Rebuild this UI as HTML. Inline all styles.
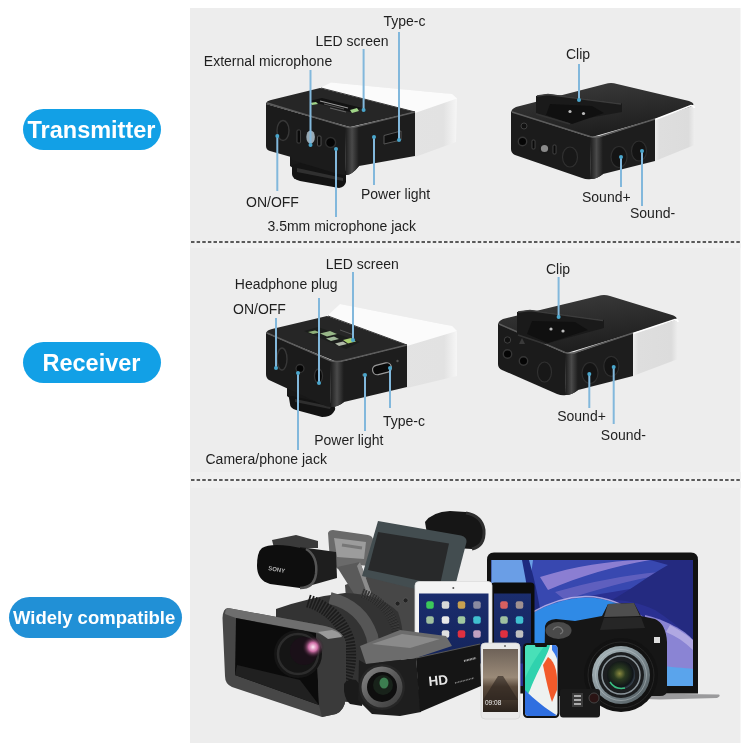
<!DOCTYPE html>
<html><head><meta charset="utf-8">
<style>
html,body{margin:0;padding:0;background:#fff;width:750px;height:750px;overflow:hidden}
svg{display:block;will-change:transform}
text{font-family:"Liberation Sans",sans-serif}
.lb{font-size:14px;fill:#1f1f1f}
.bt{font-weight:bold;fill:#fff}
.ln{stroke:#82b8dc;stroke-width:2;fill:none}
</style></head><body>
<svg width="750" height="750" viewBox="0 0 750 750">
<defs>
<linearGradient id="gTop" x1="0" y1="0" x2="1" y2="1"><stop offset="0" stop-color="#3a3a3a"/><stop offset="1" stop-color="#1c1c1c"/></linearGradient>
<linearGradient id="gLeft" x1="0" y1="0" x2="1" y2="0"><stop offset="0" stop-color="#1e1e1e"/><stop offset="1" stop-color="#161616"/></linearGradient>
<linearGradient id="gRight" x1="0" y1="0" x2="1" y2="0"><stop offset="0" stop-color="#2a2a2a"/><stop offset="0.15" stop-color="#1a1a1a"/><stop offset="1" stop-color="#141414"/></linearGradient>
<linearGradient id="gWTop" x1="0" y1="0" x2="1" y2="0"><stop offset="0" stop-color="#ffffff"/><stop offset="1" stop-color="#f7f7f7"/></linearGradient>
<linearGradient id="gWSide" x1="0" y1="0" x2="1" y2="0"><stop offset="0" stop-color="#e6e6e6"/><stop offset="0.8" stop-color="#f3f3f3"/><stop offset="1" stop-color="#fafafa"/></linearGradient>
<linearGradient id="gWSide2" x1="0" y1="0" x2="1" y2="0"><stop offset="0" stop-color="#f8f8f8"/><stop offset="0.25" stop-color="#e9e9e9"/><stop offset="0.85" stop-color="#eeeeee"/><stop offset="1" stop-color="#ffffff"/></linearGradient>
<linearGradient id="gTop2" x1="0" y1="0" x2="0.3" y2="1"><stop offset="0" stop-color="#3c3c3c"/><stop offset="1" stop-color="#1e1e1e"/></linearGradient>
<linearGradient id="gEdge" x1="0" y1="0" x2="1" y2="0"><stop offset="0" stop-color="#2a2a2a"/><stop offset="0.5" stop-color="#4a4a4a"/><stop offset="1" stop-color="#1a1a1a"/></linearGradient>
<linearGradient id="gLapScr" x1="0" y1="0" x2="1" y2="1"><stop offset="0" stop-color="#5f8fd8"/><stop offset="0.35" stop-color="#2c4fa8"/><stop offset="0.6" stop-color="#22317a"/><stop offset="1" stop-color="#7b8ee0"/></linearGradient>
<linearGradient id="gWave" x1="0" y1="0" x2="1" y2="0"><stop offset="0" stop-color="#1f7fe0"/><stop offset="1" stop-color="#3a9af0"/></linearGradient>
<linearGradient id="gIpadScr" x1="0" y1="0" x2="0" y2="1"><stop offset="0" stop-color="#1b2d6e"/><stop offset="1" stop-color="#14245a"/></linearGradient>
<linearGradient id="gHuawei" x1="0" y1="0" x2="0" y2="1"><stop offset="0" stop-color="#6e6258"/><stop offset="0.45" stop-color="#9a8a78"/><stop offset="0.6" stop-color="#5a4a3c"/><stop offset="1" stop-color="#2a221c"/></linearGradient>
<linearGradient id="gIphone" x1="0" y1="0" x2="1" y2="1"><stop offset="0" stop-color="#27d0a8"/><stop offset="0.4" stop-color="#e8f4f0"/><stop offset="0.65" stop-color="#f0f0f0"/><stop offset="1" stop-color="#2a6ae0"/></linearGradient>
<radialGradient id="gLensGlass" cx="0.45" cy="0.45" r="0.6"><stop offset="0" stop-color="#8a8a40"/><stop offset="0.35" stop-color="#2a3a20"/><stop offset="0.8" stop-color="#101418"/><stop offset="1" stop-color="#4a5a6a"/></radialGradient>
<radialGradient id="gPink" cx="0.5" cy="0.5" r="0.5"><stop offset="0" stop-color="#ffe8f4"/><stop offset="0.4" stop-color="#d070a8"/><stop offset="1" stop-color="#1a0a14" stop-opacity="0"/></radialGradient>
<linearGradient id="gHood" x1="0" y1="0" x2="1" y2="1"><stop offset="0" stop-color="#5a5a5a"/><stop offset="0.5" stop-color="#2a2a2a"/><stop offset="1" stop-color="#4a4a4a"/></linearGradient>
<linearGradient id="gBarrel" x1="0" y1="0" x2="1" y2="0"><stop offset="0" stop-color="#1a1a1a"/><stop offset="0.5" stop-color="#3a3a3a"/><stop offset="1" stop-color="#1c1c1c"/></linearGradient>
<linearGradient id="gWS3" x1="0" y1="0" x2="1" y2="0"><stop offset="0" stop-color="#f2f2f2"/><stop offset="0.12" stop-color="#e4e4e4"/><stop offset="0.9" stop-color="#e2e2e2"/><stop offset="1" stop-color="#f6f6f6"/></linearGradient>
<linearGradient id="gCorner" x1="0" y1="0" x2="1" y2="0"><stop offset="0" stop-color="#1a1a1a"/><stop offset="0.5" stop-color="#4a4a4a"/><stop offset="1" stop-color="#1c1c1c"/></linearGradient>
<linearGradient id="gWS4" x1="0" y1="0" x2="1" y2="0"><stop offset="0" stop-color="#ececec"/><stop offset="0.12" stop-color="#dedede"/><stop offset="0.85" stop-color="#dcdcdc"/><stop offset="1" stop-color="#eeeeee"/></linearGradient>
<linearGradient id="gRing" x1="0" y1="0" x2="1" y2="1"><stop offset="0" stop-color="#b0bec2"/><stop offset="0.5" stop-color="#7f8c92"/><stop offset="1" stop-color="#4a5458"/></linearGradient>
<linearGradient id="gRing2" x1="0" y1="0" x2="1" y2="1"><stop offset="0" stop-color="#8a8a8a"/><stop offset="0.5" stop-color="#5a5a5a"/><stop offset="1" stop-color="#3a3a3a"/></linearGradient>

</defs>
<rect x="190" y="8" width="550.5" height="735" fill="#ededed"/>
<!-- dashed separators -->
<rect x="190.5" y="243.5" width="550.5" height="4.5" fill="#f1f1f1"/>
<line x1="190.5" y1="242" x2="741" y2="242" stroke="#f7f7f7" stroke-width="2"/>
<line x1="191" y1="242" x2="741" y2="242" stroke="#5a5a5a" stroke-width="2" stroke-dasharray="3.5 2.122"/>
<rect x="190.5" y="472" width="550.5" height="16" fill="#f0f0f0"/>
<line x1="190.5" y1="480" x2="741" y2="480" stroke="#f7f7f7" stroke-width="2"/>
<line x1="191" y1="480" x2="741" y2="480" stroke="#5a5a5a" stroke-width="2" stroke-dasharray="3.5 2.122"/>
<!-- pills -->
<rect x="23" y="109" width="138" height="41" rx="20.5" fill="#12a0e6"/>
<text class="bt" x="27.5" y="138" font-size="23.5">Transmitter</text>
<rect x="23" y="342" width="138" height="41" rx="20.5" fill="#12a0e6"/>
<text class="bt" x="42.5" y="371" font-size="23.5">Receiver</text>
<rect x="9" y="597" width="173" height="41" rx="20.5" fill="#2190d6"/>
<text class="bt" x="13" y="624" font-size="18.5">Widely compatible</text>
<!-- transmitter front -->
<g id="tf">
<polygon points="320,88 331,82.5 452,94 457,98.5 456,142 415,157 415,113" fill="url(#gWS3)"/>
<polygon points="320,88 331,82.5 452,94 457,98.5 415,113" fill="#fbfbfb"/>
<!-- clip plate -->
<polygon points="290,155 346,171 346,180 296,170 290,166" fill="#181818"/>
<path d="M292,165 L300,163 L346,174 L346,182 Q345,187 339,188 L300,181 Q292,179 292,174 Z" fill="#141414"/>
<path d="M297,168 L343,178 L343,181 L297,172 Z" fill="#303030"/>
<path d="M266,104 Q266,101 271,100 L320,88 L415,112 L350,127 Z" fill="#262626"/>
<path d="M266,104 L345,126.5 L346,175 Q342,175 338,174 L292,160 L291,157 L270,151 Q266,150 266,146 Z" fill="#1b1b1b"/>
<path d="M345,126.5 Q352,128 359,126 L415,112 L415,156 L359,166 Q352,175 346,175 Z" fill="#1d1d1d"/>
<path d="M345,127 Q352,129 359,126 L359,166 Q352,175 346,175 Z" fill="url(#gCorner)"/>
<path d="M267,103 L345,126.5 Q352,128.5 359,126 L415,112" stroke="#5c5c5c" stroke-width="1.5" fill="none"/>
<path d="M321,88 L415,112" stroke="#3a3a3a" stroke-width="1" fill="none"/>
<ellipse cx="283" cy="130.5" rx="6" ry="10" fill="#161616" stroke="#383838" stroke-width="1.4"/>
<rect x="297" y="130" width="3.5" height="13" rx="1" fill="#0a0a0a" stroke="#4a4a4a" stroke-width="0.8"/>
<ellipse cx="310.6" cy="137" rx="4.3" ry="6.6" fill="#9aaab4"/>
<rect x="317.5" y="136" width="3.5" height="10" rx="1" fill="#0a0a0a" stroke="#5a5a5a" stroke-width="0.8"/>
<circle cx="330.6" cy="142.5" r="5" fill="#050505" stroke="#2e2e2e" stroke-width="1.4"/>
<polygon points="384,135.5 401,131 401,140 384,144" fill="#111" stroke="#555" stroke-width="1"/>
<circle cx="373.6" cy="137.6" r="1.3" fill="#555"/>
<!-- LED screen on top -->
<polygon points="309,101 322,98 362,108 350,112" fill="#121212"/>
<path d="M320,101 L348,108" stroke="#9a9a9a" stroke-width="1.2"/>
<path d="M324,104 L344,109" stroke="#6a6a6a" stroke-width="0.8"/>
<path d="M330,108 L346,112" stroke="#707070" stroke-width="0.9"/>
<polygon points="310,103 316,102 318,104 312,105" fill="#a0d488"/>
<polygon points="350,110 357,108 359,111 352,113" fill="#a0d488"/>
</g>
<!-- transmitter back -->
<g id="tb">
<polygon points="655,119 691,104.5 694.5,107 694.5,145 655,161" fill="url(#gWS4)"/>
<path d="M511,113 Q511,109 516,107 L605,84 Q611,82 617,84 L689,101 Q697,104 691,106.5 L655,119 L592,137 Z" fill="url(#gTop2)"/>
<path d="M655,119.5 L691,105.5 Q694,105.5 694.5,108" stroke="#ffffff" stroke-width="1.6" fill="none"/>
<path d="M511,112 L590,137 L591,179 Q587,180 582,178 L515,155 Q511,153 511,149 Z" fill="#1b1b1b"/>
<path d="M590,137 Q597,138.5 603,136 L655,119 L655,161 L603,174 Q597,179 591,179 Z" fill="#1d1d1d"/>
<path d="M590,137 Q597,138.5 603,136 L603,174 Q597,179 591,179 Z" fill="url(#gCorner)"/>
<path d="M512,112 L590,136.5 Q597,138 603,135.5 L655,119" stroke="#5c5c5c" stroke-width="1.5" fill="none"/>
<polygon points="536,96 548,94 622,103.5 622,112 566,122 536,113" fill="#1a1a1a"/>
<path d="M537,96 L548,94.5 L621,104" stroke="#3c3c3c" stroke-width="1.4" fill="none"/>
<polygon points="550,104 592,106 604,113 572,124 546,115" fill="#101010"/>
<circle cx="570" cy="111.5" r="1.6" fill="#bbb"/><circle cx="583.5" cy="113.5" r="1.6" fill="#bbb"/>
<path d="M536,114 L570,124" stroke="#333" stroke-width="1.6"/>
<circle cx="524" cy="126" r="3" fill="#111" stroke="#444" stroke-width="0.9"/>
<circle cx="522.5" cy="141.5" r="4.2" fill="#050505" stroke="#363636" stroke-width="1.4"/>
<rect x="532" y="140" width="3" height="9" rx="1" fill="#0a0a0a" stroke="#555" stroke-width="0.7"/>
<circle cx="544.5" cy="148.5" r="4.5" fill="#8a8a8a" stroke="#1a1a1a" stroke-width="1.8"/>
<rect x="553" y="145" width="3" height="9" rx="1" fill="#0a0a0a" stroke="#555" stroke-width="0.7"/>
<ellipse cx="570" cy="157" rx="7.5" ry="10" fill="#181818" stroke="#303030" stroke-width="1.2"/>
<ellipse cx="619" cy="157" rx="8" ry="10.5" fill="#141414" stroke="#2e2e2e" stroke-width="1.2"/>
<ellipse cx="639" cy="151" rx="7.5" ry="10" fill="#141414" stroke="#2e2e2e" stroke-width="1.2"/>
</g>
<!-- receiver front -->
<g id="rf">
<polygon points="327,316 340,304 452,326 457,332 457,376 407,388 407,346" fill="url(#gWS3)"/>
<polygon points="327,316 340,304 452,326 457,331 407,346" fill="#fbfbfb"/>
<!-- mount + plate -->
<polygon points="287,384 333,404 333,410 295,402 287,396" fill="#181818"/>
<path d="M289,398 Q289,396 292,396 L332,405 Q336,406 335,410 L333,413 Q330,417 322,417 L296,410 Q290,408 290,404 Z" fill="#131313"/>
<path d="M295,399 L331,406.5 L330,409 L295,402 Z" fill="#2e2e2e"/>
<path d="M266,333 Q267,330 272,329 L327,316 L407,345 L337,362 Z" fill="#262626"/>
<path d="M266,333 L330,360.5 L331,407 Q327,407 323,405 L269,380 Q266,378 266,374 Z" fill="#1b1b1b"/>
<path d="M330,360.5 Q337,363 344,361 L407,345 L407,387 L344,402 Q338,407 331,407 Z" fill="#1d1d1d"/>
<path d="M330,361 Q337,363 344,361 L344,402 Q338,407 331,407 Z" fill="url(#gCorner)"/>
<path d="M267,333 L330,360.5 Q337,362.5 344,360.5 L407,345" stroke="#5c5c5c" stroke-width="1.5" fill="none"/>
<path d="M328,316 L407,345" stroke="#3a3a3a" stroke-width="1" fill="none"/>
<!-- LED -->
<polygon points="304,331 318,327 360,342 346,349" fill="#1c1e1c"/>
<polygon points="308,332 315,330.5 320,332.5 313,334" fill="#8fb078"/>
<polygon points="320,333.5 330,331 337,334 327,336.5" fill="#98b888"/>
<polygon points="326,338.5 334,336.5 339,339 331,341" fill="#a0b898"/>
<polygon points="343,340 351,338 356,341.5 348,343.5" fill="#a8d070"/>
<polygon points="335,343.5 343,341.5 347,344 339,346" fill="#b0b8a8"/>
<path d="M340,330 L354,335" stroke="#555" stroke-width="1"/>
<ellipse cx="282" cy="359" rx="5" ry="11" fill="#181818" stroke="#383838" stroke-width="1.4"/>
<circle cx="300" cy="368.5" r="4" fill="#050505" stroke="#333" stroke-width="1.3"/>
<ellipse cx="318.5" cy="376" rx="4" ry="7" fill="#080808" stroke="#333" stroke-width="1.3"/>
<circle cx="363.5" cy="375" r="1.4" fill="#555"/>
<rect x="372.5" y="364" width="19" height="9.5" rx="4.5" fill="#0a0a0a" stroke="#999" stroke-width="1.2" transform="rotate(-14 382 368.8)"/>
<circle cx="397.5" cy="361" r="1.2" fill="#555"/>
</g>
<!-- receiver back -->
<g id="rb">
<polygon points="633,333 675,318.5 678,321 678,359 633,376" fill="url(#gWS4)"/>
<path d="M498,325 Q498,321 503,319 L598,296 Q604,294 610,296 L672,315 Q680,318 674,320.5 L633,333 L567,353 Z" fill="url(#gTop2)"/>
<path d="M633,333.5 L675,319.5 Q678,319.5 678,322" stroke="#ffffff" stroke-width="1.6" fill="none"/>
<path d="M498,324 L565,353 L566,395 Q562,396 557,394 L502,370 Q498,368 498,364 Z" fill="#1b1b1b"/>
<path d="M565,353 Q572,355 578,352 L633,333 L633,376 L578,390 Q572,395 566,395 Z" fill="#1d1d1d"/>
<path d="M565,353 Q572,355 578,352 L578,390 Q572,395 566,395 Z" fill="url(#gCorner)"/>
<path d="M499,324 L565,352.5 Q572,354.5 578,351.5 L633,333" stroke="#5c5c5c" stroke-width="1.5" fill="none"/>
<polygon points="517,312 530,310 604,320 604,328 545,344 517,334" fill="#1a1a1a"/>
<path d="M518,312 L530,310.5 L603,320.5" stroke="#3c3c3c" stroke-width="1.4" fill="none"/>
<polygon points="532,321 575,322 588,330 548,343 527,334" fill="#101010"/>
<circle cx="551" cy="329" r="1.6" fill="#bbb"/><circle cx="563" cy="331" r="1.6" fill="#bbb"/>
<path d="M518,335 L545,344" stroke="#333" stroke-width="1.6"/>
<circle cx="507.5" cy="340" r="3.2" fill="#111" stroke="#444" stroke-width="0.9"/>
<circle cx="507.5" cy="354" r="4.2" fill="#050505" stroke="#363636" stroke-width="1.4"/>
<polygon points="522,338 525,344 519,344" fill="#3a3a3a"/>
<circle cx="523.5" cy="361" r="4.2" fill="#050505" stroke="#363636" stroke-width="1.4"/>
<ellipse cx="544.5" cy="372" rx="7" ry="10" fill="#181818" stroke="#303030" stroke-width="1.2"/>
<ellipse cx="590" cy="373" rx="8" ry="10.5" fill="#141414" stroke="#2e2e2e" stroke-width="1.2"/>
<ellipse cx="611.3" cy="366.3" rx="7.5" ry="10" fill="#141414" stroke="#2e2e2e" stroke-width="1.2"/>
</g>
<!-- collage -->
<g id="collage">
<!-- laptop -->
<path d="M645,693.5 L719,694.5 Q721,696 717,698 L660,699.5 L645,699 Z" fill="#9a9a9c"/>
<path d="M487,693.5 V560 Q487,552.5 494,552.5 H691 Q698,552.5 698,560 V693.5 Z" fill="#121212"/>
<rect x="491.5" y="560" width="201.5" height="126" fill="#2a3092"/>
<path d="M491.5,560 H693 V580 C660,585 620,590 590,596 C560,602 535,612 520,620 L491.5,640 Z" fill="#3848b0"/>
<path d="M491.5,560 H533 C531,575 529,590 526,604 L491.5,612 Z" fill="#6a9ee6"/>
<path d="M529,560 C536,585 540,605 543,630 L534,640 C531,612 527,585 522,560 Z" fill="#1e2a80"/>
<path d="M540,577 C575,566 610,561 640,560 L650,560 C615,566 580,576 548,590 Z" fill="#9a88d8" opacity="0.85"/>
<path d="M555,592 C590,582 625,575 660,572 L665,574 C630,580 595,590 565,600 Z" fill="#7a70c8" opacity="0.6"/>
<path d="M650,560 H693 V640 C680,628 668,618 655,610 C640,603 625,600 612,600 C630,590 650,575 668,565 Z" fill="#242a80"/>
<path d="M531,614 C548,604 568,598 585,597.5 C605,597 625,605 645,620 L640,640 C625,628 610,622 595,622 C575,622 555,635 540,650 L531,655 Z" fill="#2f8ae6"/>
<path d="M531,613 C548,603 568,597 585,596.5 C605,596 625,604 645,619" stroke="#c8c0f0" stroke-width="1.5" fill="none" opacity="0.8"/>
<path d="M645,615 C665,620 685,630 693,640 V686 H645 Z" fill="#8a84d4"/>
<path d="M655,665 C670,667 685,668 693,669 V686 H655 Z" fill="#5aa4ec"/>
<path d="M670,625 C680,630 688,636 693,640 V650 C685,642 676,636 666,632 Z" fill="#c0b8e8" opacity="0.7"/>
<!-- big camcorder -->
<g id="cam">
<!-- eyepiece -->
<path d="M425,522 Q432,512 450,511 L466,512 Q482,515 484,530 Q485,546 472,549 L455,548 L428,540 Z" fill="#161616"/>
<path d="M466,513 Q482,516 484,530 Q485,546 472,549" stroke="#2e2e2e" stroke-width="3" fill="none"/>
<!-- body right part -->
<path d="M345,585 L372,575 L415,588 L415,655 L395,660 L350,650 Z" fill="#474747"/>
<circle cx="397.6" cy="603.6" r="2.5" fill="#222" stroke="#555" stroke-width="0.8"/>
<circle cx="405.6" cy="600.4" r="2.5" fill="#222" stroke="#555" stroke-width="0.8"/>
<!-- handle -->
<path d="M328,533 Q329,530 333,530 L368,535 Q373,536 373,540 L370,566 L358,565 L338,569 L330,562 Z" fill="#6a6a6a"/>
<path d="M334,538 L366,542 L364,559 L337,557 Z" fill="#9c9c9c"/>
<path d="M342,545 L362,548" stroke="#777" stroke-width="3"/>
<path d="M337,567 L360,562 L372,595 L356,597 Z" fill="#5a5a5a"/>
<path d="M360,562 L372,595 L368,596 L357,566 Z" fill="#8c8c8c"/>
<!-- mic -->
<path d="M272,540 L296,535 L318,541 L318,548 L274,548 Z" fill="#3a3a3a"/>
<path d="M300,547 L336,552 L337,578 L305,587 Z" fill="#1e1e1e"/>
<path d="M262,548 Q270,543 290,546 L306,549 Q318,556 316,574 Q314,588 300,588 L270,584 Q257,580 257,566 Q257,552 262,548 Z" fill="#0e0e0e"/>
<path d="M306,549 Q318,556 316,574 Q314,588 300,588" stroke="#555" stroke-width="2.5" fill="none"/>
<text x="268" y="570" font-size="6" font-weight="bold" fill="#b0b0b0" transform="rotate(10 268 570)">SONY</text>
<!-- lens barrel -->
<path d="M276,609 Q310,597 345,593 Q380,594 398,612 Q408,640 398,668 Q385,690 350,702 L300,700 L276,640 Z" fill="#333"/>
<path d="M330,598 Q362,606 372,636 Q378,662 364,686" stroke="#565656" stroke-width="12" fill="none"/>
<path d="M362,593 Q390,604 396,630 Q400,652 388,672" stroke="#262626" stroke-width="9" stroke-dasharray="1.3 1.3" fill="none"/>
<path d="M362,593 Q390,604 396,630 Q400,652 388,672" stroke="#444" stroke-width="9" stroke-dasharray="0.6 2" fill="none"/>
<path d="M308,601 Q338,610 348,640 Q354,668 338,694" stroke="#1c1c1c" stroke-width="13" stroke-dasharray="1.6 1.4" fill="none"/>
<!-- LCD -->
<path d="M378,521 L461,535.5 Q467,537 466.5,542 L452,598 L362,576 Z" fill="#434d50"/>
<polygon points="378,532 449,543.5 440,585 368,570" fill="#28292a"/>
<!-- lens hood -->
<path d="M228,608 L325,626 Q338,629 343,636 Q346,640 346,648 L345.5,698 Q345,710 336,714 L322,717 L232,687 Q225,684 225,676 L222.5,618 Q223,608 228,608 Z" fill="#474747"/>
<path d="M228,608 L325,626 Q338,629 343,636 L330,638 L318,633 L236,618 Q230,616 225,614 Q225,609 228,608 Z" fill="#6e6e6e"/>
<path d="M236,618 L316,633 L319,705 L235,675 Z" fill="#0b0b0b"/>
<path d="M316,633 L330,638 L343,636 Q346,640 346,648 L345.5,698 Q345,710 336,714 L322,717 L319,705 Z" fill="#3a3a3a"/>
<path d="M318,632 L332,630 Q340,632 342,637 L328,639 Z" fill="#9a9a9a"/>
<path d="M237,665 L300,680 L319,705 L235,675 Z" fill="#202020"/>
<circle cx="298" cy="654" r="24" fill="#151515"/>
<circle cx="298" cy="654" r="20" fill="none" stroke="#2c2c2c" stroke-width="2.5"/>
<circle cx="304" cy="651" r="14" fill="#1a1018"/>
<circle cx="313" cy="647" r="11" fill="url(#gPink)"/>
</g>
<!-- black ipad -->
<rect x="490.5" y="582.5" width="44" height="80" rx="4" fill="#0c0c0c"/>
<rect x="494" y="593.5" width="37" height="70" fill="url(#gIpadScr)"/>
<!-- white ipad -->
<rect x="415" y="581.5" width="77" height="80" rx="4" fill="#f4f4f4" stroke="#ddd" stroke-width="0.8"/>
<rect x="419" y="593.5" width="69.5" height="70" fill="url(#gIpadScr)"/>
<circle cx="453.3" cy="588" r="1" fill="#555"/>
<g>
<rect x="426.25" y="601.25" width="7.5" height="7.5" rx="2" fill="#3cc85a"/><rect x="441.75" y="601.25" width="7.5" height="7.5" rx="2" fill="#d8d8d8"/><rect x="457.75" y="601.25" width="7.5" height="7.5" rx="2" fill="#c8a050"/><rect x="473.25" y="601.25" width="7.5" height="7.5" rx="2" fill="#8a8aa0"/>
<rect x="426.25" y="616.25" width="7.5" height="7.5" rx="2" fill="#a0c0a0"/><rect x="441.75" y="616.25" width="7.5" height="7.5" rx="2" fill="#e8e8e8"/><rect x="457.75" y="616.25" width="7.5" height="7.5" rx="2" fill="#a0c8a0"/><rect x="473.25" y="616.25" width="7.5" height="7.5" rx="2" fill="#40c0d0"/>
<rect x="441.75" y="630.25" width="7.5" height="7.5" rx="2" fill="#e0e0e0"/><rect x="457.75" y="630.25" width="7.5" height="7.5" rx="2" fill="#e03040"/><rect x="473.25" y="630.25" width="7.5" height="7.5" rx="2" fill="#c0a0c0"/>
<rect x="500.25" y="601.25" width="7.5" height="7.5" rx="2" fill="#d86060"/><rect x="515.75" y="601.25" width="7.5" height="7.5" rx="2" fill="#a09090"/>
<rect x="500.25" y="616.25" width="7.5" height="7.5" rx="2" fill="#a0c0a0"/><rect x="515.75" y="616.25" width="7.5" height="7.5" rx="2" fill="#40c0d0"/>
<rect x="500.25" y="630.25" width="7.5" height="7.5" rx="2" fill="#e03040"/><rect x="515.75" y="630.25" width="7.5" height="7.5" rx="2" fill="#c0c0c0"/>
</g>
<!-- DSLR -->
<g id="dslr">
<path d="M545,626 Q546,620 556,619 L575,621 L602,616 L608,604 L634,603 L641,616 L655,619 Q666,624 667,642 L667,690 Q667,696 660,696 L548,696 Q544,696 544,690 Z" fill="#161616"/>
<path d="M608,604 L634,603 L640,616 L604,617 Z" fill="#4e4e4e"/>
<path d="M604,618 L641,617 L645,628 L600,630 Z" fill="#262626"/>
<ellipse cx="558.5" cy="630.5" rx="13" ry="8.5" fill="#4a4a4a"/>
<path d="M553,630 Q556,625 561,628 Q565,632 560,634" stroke="#777" stroke-width="1.2" fill="none"/>
<rect x="654" y="637" width="6" height="6" fill="#ddd"/>
<circle cx="621" cy="675" r="37" fill="#121212"/>
<circle cx="621" cy="675" r="33" fill="none" stroke="#262626" stroke-width="1"/>
<circle cx="621" cy="675" r="29" fill="url(#gRing)"/>
<circle cx="621" cy="675" r="25.5" fill="none" stroke="#c0c8cc" stroke-width="0.8" opacity="0.6"/>
<circle cx="621" cy="675" r="23" fill="#1c1e20"/>
<circle cx="621" cy="675" r="19" fill="none" stroke="#8a949a" stroke-width="1.5"/>
<circle cx="621" cy="675" r="14" fill="url(#gLensGlass)"/>
<path d="M610,682 Q615,690 625,688" stroke="#3ac080" stroke-width="1.5" fill="none"/>
</g>
<!-- phones -->
<rect x="481" y="643" width="39" height="76" rx="4" fill="#e9e9e9" stroke="#d6d6d6" stroke-width="0.8"/>
<rect x="483" y="649" width="35" height="63" fill="url(#gHuawei)"/>
<path d="M483,700 L498,676 L503,676 L518,700 Z" fill="#2a221c" opacity="0.6"/>
<text x="485" y="705" font-size="6.5" fill="#eee">09:08</text>
<circle cx="505" cy="646" r="1" fill="#666"/>
<rect x="523" y="643" width="36.5" height="75" rx="4.5" fill="#121212"/>
<clipPath id="cpIph"><rect x="525" y="645" width="32.5" height="71" rx="3.5"/></clipPath>
<g clip-path="url(#cpIph)">
<rect x="525" y="645" width="33" height="71" fill="#eef2f0"/>
<path d="M525,645 H550 C548,655 540,665 530,690 L525,700 Z" fill="#2fd2ae"/>
<path d="M525,645 H545 C540,652 534,660 528,672 L525,678 Z" fill="#48e0b8"/>
<path d="M548,657 C556,662 558,675 557,690 L552,702 C548,690 545,675 543,665 Z" fill="#f25a2a"/>
<path d="M525,690 C535,700 545,708 558,716 H525 Z" fill="#2f6fe0"/>
<path d="M552,650 C556,655 558,660 558,665 V645 H552 Z" fill="#3a7ae8"/>
</g>
<rect x="535" y="644" width="12" height="3" rx="1.5" fill="#121212"/>
<!-- gopro -->
<rect x="560" y="689" width="40" height="28.5" rx="3" fill="#1a1a1a"/>
<rect x="572" y="693" width="11" height="14" fill="#3a3a3a"/>
<path d="M574,696 h7 M574,700 h7 M574,704 h7" stroke="#cfcfcf" stroke-width="1.6"/>
<circle cx="594" cy="698" r="5" fill="#2a1414" stroke="#444" stroke-width="1"/>
<!-- HD camcorder -->
<g id="hd">
<path d="M344,684 Q348,678 356,680 L364,690 L362,706 L350,704 Q343,698 344,684 Z" fill="#1a1a1a"/>
<path d="M360,646 L400,630 L446,636 L452,646 L416,658 L366,664 Z" fill="#6c6c6c"/>
<path d="M372,644 L402,634 L440,639 L410,648 Z" fill="#8a8a8a"/>
<path d="M359,660 L366,664 L416,658 L421,712 L400,716 L372,714 L358,700 Z" fill="#1e1e1e"/>
<circle cx="382" cy="687" r="23" fill="#262626"/>
<circle cx="382" cy="687" r="20.5" fill="url(#gRing2)"/>
<circle cx="382" cy="687" r="15" fill="#0e0e0e"/>
<circle cx="383" cy="685" r="10" fill="#18221a"/>
<ellipse cx="384" cy="683" rx="4.5" ry="5.5" fill="#3c7e50"/>
<polygon points="416,658 480,644 481,686 420,712" fill="#151515"/>
<path d="M416,658 L480,644" stroke="#555" stroke-width="1.2"/>
<text x="429" y="686" font-size="13.5" font-weight="bold" fill="#e6e6e6" transform="rotate(-6 429 686)">HD</text>
<path d="M455,683 L474,678" stroke="#888" stroke-width="1.4" stroke-dasharray="1 0.6"/>
<path d="M464,661 L476,658" stroke="#aaa" stroke-width="2" stroke-dasharray="1 0.5"/>
</g>
</g>
<!-- leader lines -->
<g class="ln">
<path d="M399,32 V140"/>
<path d="M363.6,49 V110"/>
<path d="M310.5,70 V145"/>
<path d="M277.3,136 V191"/>
<path d="M336,149 V217"/>
<path d="M374,137 V185"/>
<path d="M579,64 V100"/>
<path d="M621,157 V187"/>
<path d="M642,151 V206"/>
<path d="M353,272 V340"/>
<path d="M319,298 V383"/>
<path d="M276,318 V368"/>
<path d="M298,373 V450"/>
<path d="M365,375 V431"/>
<path d="M390,368 V408"/>
<path d="M558.6,277 V317"/>
<path d="M589.3,374 V408"/>
<path d="M613.7,367 V424"/>
</g>
<g fill="#4aa6cc">
<circle cx="399" cy="140" r="2"/><circle cx="363.6" cy="110" r="2"/><circle cx="310.5" cy="145" r="2"/>
<circle cx="277.3" cy="136" r="2"/><circle cx="336" cy="149" r="2"/><circle cx="374" cy="137" r="2"/>
<circle cx="579" cy="100" r="2"/><circle cx="621" cy="157" r="2"/><circle cx="642" cy="151" r="2"/>
<circle cx="353" cy="340" r="2"/><circle cx="319" cy="383" r="2"/><circle cx="276" cy="368" r="2"/>
<circle cx="298" cy="373" r="2"/><circle cx="365" cy="375" r="2"/><circle cx="390" cy="368" r="2"/>
<circle cx="558.6" cy="317" r="2"/><circle cx="589.3" cy="374" r="2"/><circle cx="613.7" cy="367" r="2"/>
</g>
<!-- labels transmitter -->
<text class="lb" x="383.5" y="25.5">Type-c</text>
<text class="lb" x="315.5" y="45.8">LED screen</text>
<text class="lb" x="203.8" y="65.5">External microphone</text>
<text class="lb" x="246" y="206.7">ON/OFF</text>
<text class="lb" x="361" y="199.2">Power light</text>
<text class="lb" x="267.5" y="230.7">3.5mm microphone jack</text>
<text class="lb" x="566" y="58.8">Clip</text>
<text class="lb" x="582" y="202">Sound+</text>
<text class="lb" x="630" y="218">Sound-</text>
<!-- labels receiver -->
<text class="lb" x="325.7" y="269">LED screen</text>
<text class="lb" x="234.8" y="288.7">Headphone plug</text>
<text class="lb" x="233" y="314">ON/OFF</text>
<text class="lb" x="383" y="426">Type-c</text>
<text class="lb" x="314.2" y="445">Power light</text>
<text class="lb" x="205.5" y="463.7">Camera/phone jack</text>
<text class="lb" x="546" y="273.7">Clip</text>
<text class="lb" x="557.2" y="421.4">Sound+</text>
<text class="lb" x="600.8" y="440.1">Sound-</text>

</svg>
</body></html>
